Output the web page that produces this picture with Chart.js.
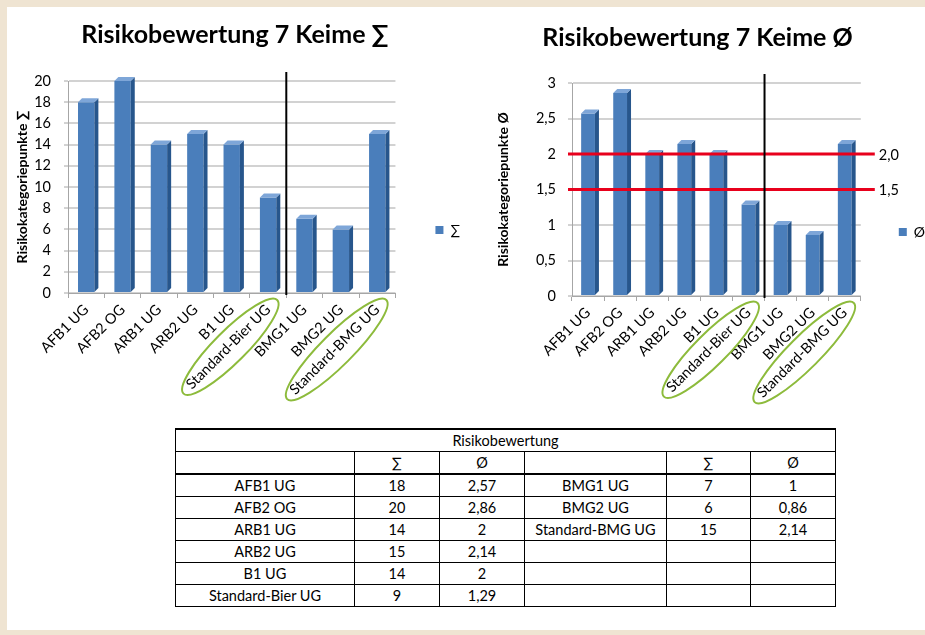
<!DOCTYPE html>
<html><head><meta charset="utf-8">
<script src="https://cdn.jsdelivr.net/npm/chart.js@4"></script>
<style>
html,body{margin:0;padding:0;width:925px;height:635px;overflow:hidden;background:#efe4d2;font-family:Lato,"DejaVu Sans",sans-serif;}
#panel{position:absolute;left:7px;top:7px;width:918px;height:623px;background:#fff;}
#c1{position:absolute;left:0;top:0;}
#c2{position:absolute;left:460px;top:0;}
table{position:absolute;left:175px;top:428px;width:660px;border-collapse:collapse;font-size:14.5px;table-layout:fixed;color:#000;}
td{border:1px solid #000;text-align:center;height:21px;padding:0;line-height:20px;white-space:nowrap;}
tr.hdr td{border-bottom:2px solid #000;}
tr.ttl td{border-top:2px solid #000;}
</style></head>
<body>
<div id="panel"></div>
<canvas id="c1" width="470" height="420"></canvas>
<canvas id="c2" width="475" height="420"></canvas>
<table id="tbl"></table>
<script>
// ---- data ----
const categories = ['AFB1 UG','AFB2 OG','ARB1 UG','ARB2 UG','B1 UG','Standard-Bier UG','BMG1 UG','BMG2 UG','Standard-BMG UG'];
const sumValues = [18, 20, 14, 15, 14, 9, 7, 6, 15];
const avgValues = [2.57, 2.86, 2, 2.14, 2, 1.29, 1, 0.86, 2.14];
const thresholds = [2.0, 1.5];
const thresholdLabels = ['2,0', '1,5'];
const circled = ['Standard-Bier UG', 'Standard-BMG UG'];
const splitAfter = 'Standard-Bier UG';
const sumSymbol = '∑';
const avgSymbol = 'Ø';
const tableTitle = 'Risikobewertung';

const fmt = v => String(v).replace('.', ',');
const FONT = 'Lato, "DejaVu Sans", sans-serif';
const TICK_SIZE = 14.5;

// ---- decoration plugin (3D side faces, divider, thresholds, ellipses) ----
const deco = {
  id: 'deco',
  afterDatasetsDraw(chart, args, o) {
    const ctx = chart.ctx;
    const meta = chart.getDatasetMeta(0);
    ctx.save();
    meta.data.forEach(bar => {
      const p = bar.getProps(['x', 'y', 'base', 'width'], true);
      const l = p.x - p.width / 2, r = p.x + p.width / 2, d = 4;
      ctx.fillStyle = '#27568c';
      ctx.beginPath();
      ctx.moveTo(r, p.y); ctx.lineTo(r + d, p.y - d); ctx.lineTo(r + d, p.base - d); ctx.lineTo(r, p.base);
      ctx.closePath(); ctx.fill();
      ctx.fillStyle = '#7ea6d8';
      ctx.beginPath();
      ctx.moveTo(l, p.y); ctx.lineTo(l + d, p.y - d); ctx.lineTo(r + d, p.y - d); ctx.lineTo(r, p.y);
      ctx.closePath(); ctx.fill();
    });
    const xs = chart.scales.x, ys = chart.scales.y, ca = chart.chartArea;
    // thresholds
    (o.thresholds || []).forEach((t, i) => {
      const y = ys.getPixelForValue(t);
      ctx.strokeStyle = '#e8001c'; ctx.lineWidth = 3;
      ctx.beginPath(); ctx.moveTo(ca.left - 4, y); ctx.lineTo(ca.right + 14, y); ctx.stroke();
      ctx.fillStyle = '#000'; ctx.font = TICK_SIZE + 'px ' + FONT; ctx.textAlign = 'left'; ctx.textBaseline = 'middle';
      ctx.fillText(o.thresholdLabels[i], ca.right + 18, y + 1);
    });
    // divider
    const k = categories.indexOf(splitAfter);
    const xd = (xs.getPixelForValue(k) + xs.getPixelForValue(k + 1)) / 2;
    ctx.strokeStyle = '#000'; ctx.lineWidth = 2;
    ctx.beginPath(); ctx.moveTo(xd, ca.top - 9); ctx.lineTo(xd, ca.bottom + 2); ctx.stroke();
    ctx.restore();
  },
  afterDraw(chart) {
    const ctx = chart.ctx, xs = chart.scales.x;
    ctx.save();
    ctx.font = TICK_SIZE + 'px ' + FONT;
    ctx.strokeStyle = '#8dbb3c'; ctx.lineWidth = 2;
    circled.forEach(lbl => {
      const i = categories.indexOf(lbl);
      const w = ctx.measureText(lbl).width;
      const x0 = xs.getPixelForValue(i), y0 = xs.top + 12;
      const c = Math.SQRT1_2;
      const cx = x0 - c * w / 2 + 2, cy = y0 + c * w / 2 + 2;
      ctx.beginPath();
      ctx.ellipse(cx, cy, w / 2 + 10, 16, -Math.PI / 4, 0, Math.PI * 2);
      ctx.stroke();
    });
    ctx.restore();
  }
};

function makeChart(id, values, symbol, cfg) {
  return new Chart(document.getElementById(id), {
    type: 'bar',
    data: {
      labels: categories,
      datasets: [{
        label: symbol,
        data: values,
        backgroundColor: '#4a7ebb',
        borderWidth: 0,
        barPercentage: cfg.barPct,
        categoryPercentage: 1
      }]
    },
    options: {
      responsive: false,
      animation: false,
      devicePixelRatio: 1,
      layout: { padding: 0 },
      plugins: {
        title: {
          display: true,
          text: 'Risikobewertung 7 Keime ' + symbol,
          color: '#000',
          font: { family: FONT, size: 25, weight: 'bold' },
          padding: { top: cfg.titleTop, bottom: cfg.titleBottom }
        },
        legend: {
          position: 'right',
          title: { display: true, text: ' ', font: { size: 10 }, padding: { top: cfg.legendShift - 12, bottom: 0 } },
          labels: {
            boxWidth: 8, boxHeight: 8, padding: cfg.legendPad, color: '#000',
            font: { family: FONT, size: 14 }
          }
        },
        tooltip: { enabled: false },
        deco: { thresholds: cfg.thresholds || [], thresholdLabels: cfg.thresholdLabels || [] }
      },
      scales: {
        x: {
          afterFit: s => { s.height = cfg.xHeight; },
          grid: { drawOnChartArea: false, drawTicks: true, tickLength: 5, color: '#a6a6a6', offset: true },
          border: { color: '#a6a6a6' },
          ticks: {
            autoSkip: false, minRotation: 45, maxRotation: 45, padding: 3, color: '#000',
            font: { family: FONT, size: TICK_SIZE }
          }
        },
        y: {
          min: 0, max: cfg.max,
          afterFit: s => { s.width = cfg.yWidth; },
          grid: { color: '#d2d2d2', lineWidth: 2, tickLength: 4, tickColor: '#a6a6a6', tickWidth: 1 },
          border: { color: '#a6a6a6' },
          ticks: {
            stepSize: cfg.step, padding: cfg.tickPad, color: '#000',
            font: { family: FONT, size: TICK_SIZE },
            callback: v => fmt(v)
          },
          title: {
            display: true, text: 'Risikokategoriepunkte ' + symbol, color: '#000',
            font: { family: FONT, size: 14, weight: 'bold' },
            padding: cfg.yTitlePad
          }
        }
      }
    },
    plugins: [deco]
  });
}

makeChart('c1', sumValues, sumSymbol, {
  barPct: 0.45, titleTop: 20.2, titleBottom: 30.8, legendPad: 40, legendShift: 40, xHeight: 127, yWidth: 68,
  max: 20, step: 2, tickPad: 13, yTitlePad: 14
});
makeChart('c2', avgValues, avgSymbol, {
  barPct: 0.43, titleTop: 23.2, titleBottom: 29.8, legendPad: 38, legendShift: 44, xHeight: 124, yWidth: 112,
  max: 3, step: 0.5, tickPad: 12, yTitlePad: 35, thresholds, thresholdLabels
});

// ---- table ----
const tbl = document.getElementById('tbl');
const colW = [179, 85, 85, 142, 84, 85];
let html = '<colgroup>' + colW.map(w => `<col style="width:${w}px">`).join('') + '</colgroup>';
html += `<tr class="ttl"><td colspan="6">${tableTitle}</td></tr>`;
html += `<tr class="hdr"><td></td><td>${sumSymbol}</td><td>${avgSymbol}</td><td></td><td>${sumSymbol}</td><td>${avgSymbol}</td></tr>`;
const k = categories.indexOf(splitAfter) + 1;
for (let i = 0; i < k; i++) {
  const j = k + i;
  const right = j < categories.length
    ? `<td>${categories[j]}</td><td>${sumValues[j]}</td><td>${fmt(avgValues[j])}</td>`
    : '<td></td><td></td><td></td>';
  html += `<tr><td>${categories[i]}</td><td>${sumValues[i]}</td><td>${fmt(avgValues[i])}</td>${right}</tr>`;
}
tbl.innerHTML = html;
</script>
</body></html>
